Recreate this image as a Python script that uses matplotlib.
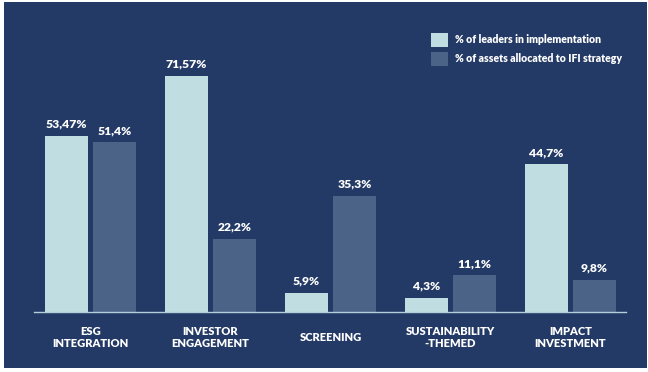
import numpy as np
import matplotlib.pyplot as plt
from matplotlib.patches import Rectangle

plt.rcParams['font.family'] = ['Lato', 'DejaVu Sans']

categories = ["ESG\nINTEGRATION", "INVESTOR\nENGAGEMENT", "SCREENING",
              "SUSTAINABILITY\n-THEMED", "IMPACT\nINVESTMENT"]
leaders = [53.47, 71.57, 5.9, 4.3, 44.7]
assets = [51.4, 22.2, 35.3, 11.1, 9.8]
leaders_lbl = ["53,47%", "71,57%", "5,9%", "4,3%", "44,7%"]
assets_lbl = ["51,4%", "22,2%", "35,3%", "11,1%", "9,8%"]

bg = "#233a66"
light = "#c0dde2"
dark = "#4c6388"

W, H = 648, 372
fig = plt.figure(figsize=(W / 100, H / 100), dpi=100)
fig.patch.set_facecolor("white")
# navy panel
fig.add_artist(Rectangle((4 / W, 4 / H), 643 / W, 366 / H, transform=fig.transFigure,
                         facecolor=bg, edgecolor="none", zorder=0))

ax = fig.add_axes([34 / W, (H - 312) / H, 592 / W, 310 / H])
ax.set_facecolor("none")

x = np.arange(len(categories))
w = 0.358
b1 = ax.bar(x - 0.2, leaders, w, color=light, label="% of leaders in implementation")
b2 = ax.bar(x + 0.2, assets, w, color=dark, label="% of assets allocated to IFI strategy")

for bars, lbls in [(b1, leaders_lbl), (b2, assets_lbl)]:
    for r, t in zip(bars, lbls):
        ax.annotate(t, (r.get_x() + r.get_width() / 2, r.get_height()),
                    xytext=(0, 6), textcoords="offset points", ha="center", va="baseline",
                    color="white", fontsize=8.7, fontweight="heavy")

ax.set_xlim(-0.471, 4.4625)
ax.set_ylim(0, 310 / 3.30)
ax.set_xticks(x)
ax.set_xticklabels(categories, color="white", fontsize=8, fontweight="heavy",
                   va="center", linespacing=1.1)
ax.tick_params(axis="x", length=0, pad=18.4)
ax.set_yticks([])
for s in ["top", "left", "right"]:
    ax.spines[s].set_visible(False)
ax.spines["bottom"].set_color("#b3d0da")
ax.spines["bottom"].set_linewidth(1)

leg = ax.legend(loc="upper left", bbox_to_anchor=(431 / W, 1 - 33 / H),
                bbox_transform=fig.transFigure, frameon=False, borderpad=0,
                borderaxespad=0, handlelength=1.62, handleheight=1.62,
                handletextpad=0.66, labelspacing=0.52,
                prop={"size": 7.6, "weight": "heavy"})
for t in leg.get_texts():
    t.set_color("white")

fig.savefig("out.png", dpi=100, facecolor=fig.get_facecolor())
